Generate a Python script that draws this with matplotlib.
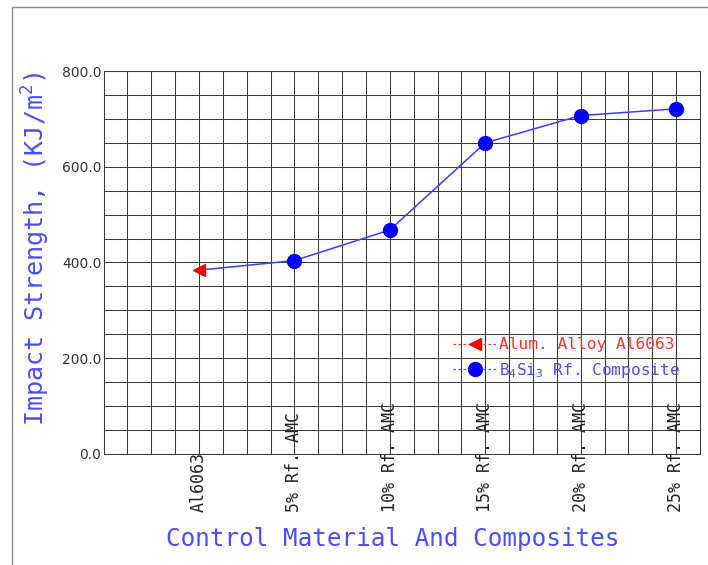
import numpy as np
import matplotlib
matplotlib.use("Agg")
import matplotlib.pyplot as plt
from matplotlib.lines import Line2D
from matplotlib.patches import Rectangle
from matplotlib.ticker import MultipleLocator, FormatStrFormatter

plt.rcParams['mathtext.fontset'] = 'custom'
plt.rcParams['mathtext.rm'] = 'DejaVu Sans Mono'
plt.rcParams['mathtext.it'] = 'DejaVu Sans Mono'

# Datos
categorias = ["Al6063", "5% Rf. AMC", "10% Rf. AMC", "15% Rf. AMC", "20% Rf. AMC", "25% Rf. AMC"]
resistencia = [384, 404, 468, 650, 707, 721]   # KJ/m^2
etiqueta_aleacion = "Alum. Alloy Al6063"
etiqueta_compuesto = "B$_4$Si$_3$ Rf. Composite"

azul_texto = '#4b4bff'
rojo_texto = '#ff3030'
mono = 'DejaVu Sans Mono'

# posiciones sobre la rejilla: una categoria cada 4 celdas
pos = np.arange(1, len(categorias) + 1) * 4

fig = plt.figure(figsize=(7.08, 5.65), dpi=100)
ax = fig.add_axes([0.1462, 0.1965, 0.8425, 0.6778])

# marco de la figura
fig.patches.append(Rectangle((12 / 708, -0.1), 1.2, 1.1 - 7 / 565, transform=fig.transFigure,
                             fill=False, edgecolor='#8a8a8a', lw=1.0, clip_on=False))

# curva
ax.plot(pos, resistencia, color='#3c3cff', lw=1.1, zorder=3)
ax.plot(pos[1:], resistencia[1:], 'o', color='#0000ff', ms=10, zorder=4)
ax.plot(pos[:1], resistencia[:1], '<', color='#ff0000', ms=9, zorder=4)

# ejes y rejilla
ax.set_xlim(0, 25)
ax.set_ylim(0, 800)
ax.xaxis.set_minor_locator(MultipleLocator(1))
ax.yaxis.set_major_locator(MultipleLocator(200))
ax.yaxis.set_minor_locator(MultipleLocator(50))
ax.yaxis.set_major_formatter(FormatStrFormatter('%.1f'))
ax.grid(which='both', color='#3a3a3a', lw=0.75)
ax.set_axisbelow(True)
for s in ax.spines.values():
    s.set_color('#3a3a3a')
    s.set_linewidth(0.75)

ax.set_xticks(pos)
ax.set_xticklabels(categorias, rotation=90, fontsize=12, family=mono, color='#222222')
for lbl in ax.get_xticklabels():
    lbl.set_va('bottom')
ax.tick_params(axis='x', which='both', length=0, pad=42)
ax.tick_params(axis='y', which='both', length=0, pad=1.5, labelsize=10, labelcolor='#333333')

ax.set_xlabel("Control Material And Composites", family=mono, fontsize=17.5,
              color=azul_texto)
ax.xaxis.set_label_coords(0.485, -0.19)
ax.set_ylabel("Impact Strength, (KJ/m$^2$)", family=mono, fontsize=18,
              color=azul_texto)
ax.yaxis.set_label_coords(-0.086, 0.535)

# leyenda
handles = [
    Line2D([], [], color=rojo_texto, ls='--', lw=0.9, marker='<', ms=9,
           markerfacecolor='#ff0000', markeredgecolor='#ff0000', dashes=(2, 2)),
    Line2D([], [], color='#5050ff', ls='--', lw=0.9, marker='o', ms=10,
           markerfacecolor='#0000ff', markeredgecolor='#0000ff', dashes=(2, 2)),
]
leg = ax.legend(handles, [etiqueta_aleacion, etiqueta_compuesto], loc='upper left',
                bbox_to_anchor=(0.586, 0.305), frameon=False, borderpad=0, borderaxespad=0,
                handlelength=2.7, handletextpad=0.15, labelspacing=0.55,
                prop={'family': mono, 'size': 11.6})
leg.get_texts()[0].set_color(rojo_texto)
leg.get_texts()[1].set_color(azul_texto)

fig.savefig("out.png", dpi=100)
